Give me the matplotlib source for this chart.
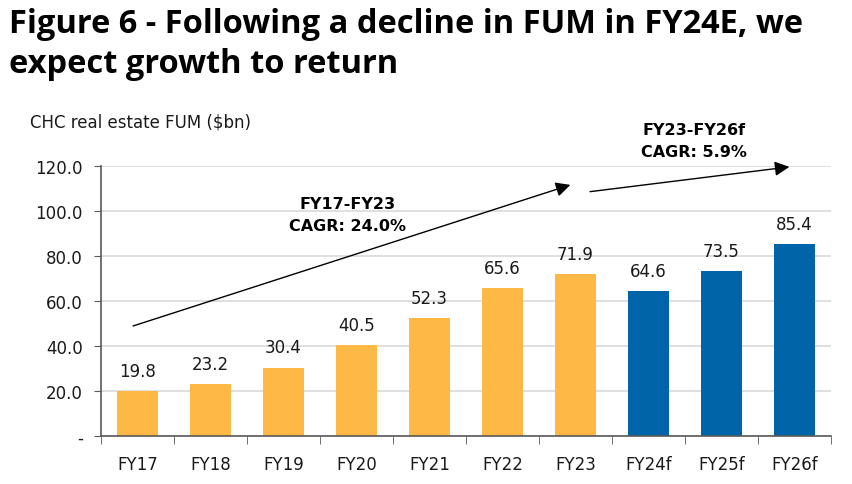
import numpy as np
import matplotlib
matplotlib.use("Agg")
import matplotlib.pyplot as plt
from matplotlib.ticker import FuncFormatter, FixedLocator

# data
years = ["FY17", "FY18", "FY19", "FY20", "FY21", "FY22", "FY23", "FY24f", "FY25f", "FY26f"]
fum = [19.8, 23.2, 30.4, 40.5, 52.3, 65.6, 71.9, 64.6, 73.5, 85.4]
is_forecast = [False] * 7 + [True] * 3

ORANGE = "#FDB845"
BLUE = "#0064A8"
W, H = 853, 485

fig = plt.figure(figsize=(W / 100, H / 100), dpi=100)
ax = fig.add_axes([101 / W, 48 / H, 730 / W, 270 / H])

x = np.arange(len(years))
colors = [BLUE if f else ORANGE for f in is_forecast]
bars = ax.bar(x, fum, width=0.55, color=colors, zorder=3)
for xi, v in zip(x, fum):
    ax.annotate(f"{v:.1f}", (xi, v), xytext=(0, 8), textcoords="offset points",
                ha="center", va="bottom", fontsize=12, color="#1a1a1a")

ax.set_xlim(-0.5, len(years) - 0.5)
ax.set_ylim(0, 120)
ax.set_yticks(np.arange(0, 121, 20))
ax.yaxis.set_major_formatter(FuncFormatter(lambda v, p: "-" if v == 0 else f"{v:.1f}"))
ax.grid(axis="y", color="#d9d9d9", lw=1.2, zorder=0)
ax.set_xticks(x)
ax.set_xticklabels(years)
ax.xaxis.set_minor_locator(FixedLocator(np.arange(-0.5, len(years), 1.0)))
ax.tick_params(axis="x", which="major", length=0, pad=14, labelsize=12, labelcolor="#1a1a1a")
ax.tick_params(axis="x", which="minor", length=6, color="#595959")
ax.tick_params(axis="y", length=5, color="#595959", labelsize=12, labelcolor="#1a1a1a", pad=8)
for s in ["top", "right"]:
    ax.spines[s].set_visible(False)
for s in ["left", "bottom"]:
    ax.spines[s].set_color("#595959")
    ax.spines[s].set_linewidth(1.2)
ax.spines["bottom"].set_zorder(4)

# CAGR arrows and labels
arrow = dict(arrowstyle="-|>", color="black", lw=1.0, mutation_scale=22, shrinkA=0, shrinkB=0)
ax.annotate("", xy=(5.93, 111.6), xytext=(-0.06, 48.9), arrowprops=arrow, annotation_clip=False)
ax.annotate("", xy=(8.93, 119.6), xytext=(6.20, 108.6), arrowprops=arrow, annotation_clip=False)
ax.text(2.88, 98.5, "FY17-FY23\nCAGR: 24.0%", ha="center", va="center", fontsize=11.5,
        fontweight="bold", linespacing=1.6, clip_on=False)
ax.text(7.62, 131.5, "FY23-FY26f\nCAGR: 5.9%", ha="center", va="center", fontsize=11.5,
        fontweight="bold", linespacing=1.6, clip_on=False)

# titles
fig.text(9 / W, 1 - 33 / H, "Figure 6 - Following a decline in FUM in FY24E, we",
         fontsize=23.5, fontweight="bold", family="Open Sans", va="baseline")
fig.text(9 / W, 1 - 73 / H, "expect growth to return",
         fontsize=23.5, fontweight="bold", family="Open Sans", va="baseline")
fig.text(30 / W, 1 - 122 / H, "CHC real estate FUM ($bn)", fontsize=12,
         va="center", color="#1a1a1a")

fig.savefig("out.png", dpi=100)
